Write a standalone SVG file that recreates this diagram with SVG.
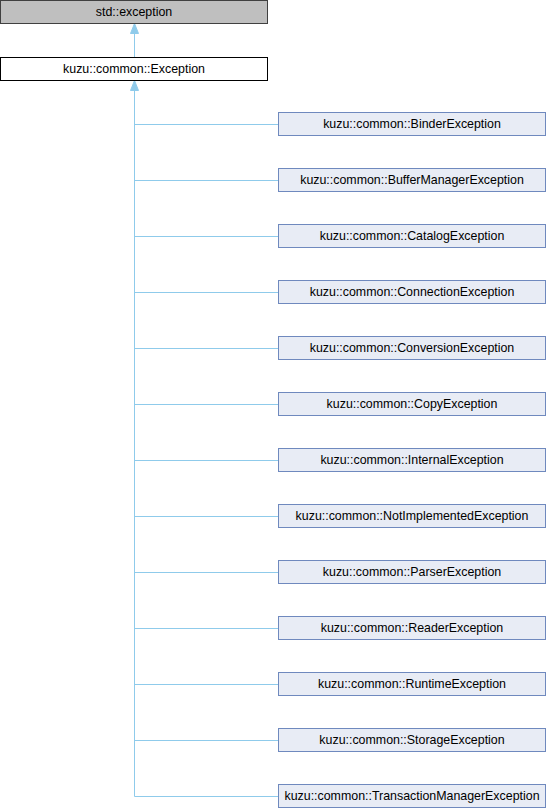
<svg xmlns="http://www.w3.org/2000/svg" width="546" height="808" viewBox="0 0 546 808">
<style>
.t{font-family:"Liberation Sans",Arial,sans-serif;font-size:12.4px;fill:#000;text-anchor:middle}
.c{fill:#e8ecf5;stroke:#6f89be;stroke-width:1}
.ln{stroke:#8fcbeb;stroke-width:1;fill:none}
</style>
<defs>
<marker id="ah" viewBox="0 0 10 10" refX="10" refY="5" markerWidth="10" markerHeight="10" markerUnits="userSpaceOnUse" orient="auto">
<path d="M0,1 L10,5 L0,9 Z" fill="#8fcbeb" stroke="#8fcbeb" stroke-width="1"/>
</marker>
</defs>
<g id="connectors">
<line class="ln" x1="134.5" y1="57" x2="134.5" y2="23.5" marker-end="url(#ah)"/>
<path class="ln" d="M134.5,796.5 V80.5"/>
<line class="ln" x1="134.5" y1="90" x2="134.5" y2="80.5" marker-end="url(#ah)"/>
<path class="ln" d="M134.5,124.5 H278.5 M134.5,180.5 H278.5 M134.5,236.5 H278.5 M134.5,292.5 H278.5 M134.5,348.5 H278.5 M134.5,404.5 H278.5 M134.5,460.5 H278.5 M134.5,516.5 H278.5 M134.5,572.5 H278.5 M134.5,628.5 H278.5 M134.5,684.5 H278.5 M134.5,740.5 H278.5 M134.5,796.5 H278.5"/>
</g>
<g id="std_exception">
<rect x="0.5" y="0.5" width="267" height="23" fill="#bfbfbf" stroke="#404040"/>
<text class="t" x="134" y="16">std::exception</text>
</g>
<g id="Exception">
<rect x="0.5" y="57.5" width="267" height="23" fill="#fff" stroke="#000"/>
<text class="t" x="134" y="73">kuzu::common::Exception</text>
</g>
<g id="BinderException"><rect class="c" x="278.5" y="112.5" width="267" height="23"/><text class="t" x="412" y="128">kuzu::common::BinderException</text></g>
<g id="BufferManagerException"><rect class="c" x="278.5" y="168.5" width="267" height="23"/><text class="t" x="412" y="184">kuzu::common::BufferManagerException</text></g>
<g id="CatalogException"><rect class="c" x="278.5" y="224.5" width="267" height="23"/><text class="t" x="412" y="240">kuzu::common::CatalogException</text></g>
<g id="ConnectionException"><rect class="c" x="278.5" y="280.5" width="267" height="23"/><text class="t" x="412" y="296">kuzu::common::ConnectionException</text></g>
<g id="ConversionException"><rect class="c" x="278.5" y="336.5" width="267" height="23"/><text class="t" x="412" y="352">kuzu::common::ConversionException</text></g>
<g id="CopyException"><rect class="c" x="278.5" y="392.5" width="267" height="23"/><text class="t" x="412" y="408">kuzu::common::CopyException</text></g>
<g id="InternalException"><rect class="c" x="278.5" y="448.5" width="267" height="23"/><text class="t" x="412" y="464">kuzu::common::InternalException</text></g>
<g id="NotImplementedException"><rect class="c" x="278.5" y="504.5" width="267" height="23"/><text class="t" x="412" y="520">kuzu::common::NotImplementedException</text></g>
<g id="ParserException"><rect class="c" x="278.5" y="560.5" width="267" height="23"/><text class="t" x="412" y="576">kuzu::common::ParserException</text></g>
<g id="ReaderException"><rect class="c" x="278.5" y="616.5" width="267" height="23"/><text class="t" x="412" y="632">kuzu::common::ReaderException</text></g>
<g id="RuntimeException"><rect class="c" x="278.5" y="672.5" width="267" height="23"/><text class="t" x="412" y="688">kuzu::common::RuntimeException</text></g>
<g id="StorageException"><rect class="c" x="278.5" y="728.5" width="267" height="23"/><text class="t" x="412" y="744">kuzu::common::StorageException</text></g>
<g id="TransactionManagerException"><rect class="c" x="278.5" y="784.5" width="267" height="23"/><text class="t" x="412" y="800">kuzu::common::TransactionManagerException</text></g>
</svg>
